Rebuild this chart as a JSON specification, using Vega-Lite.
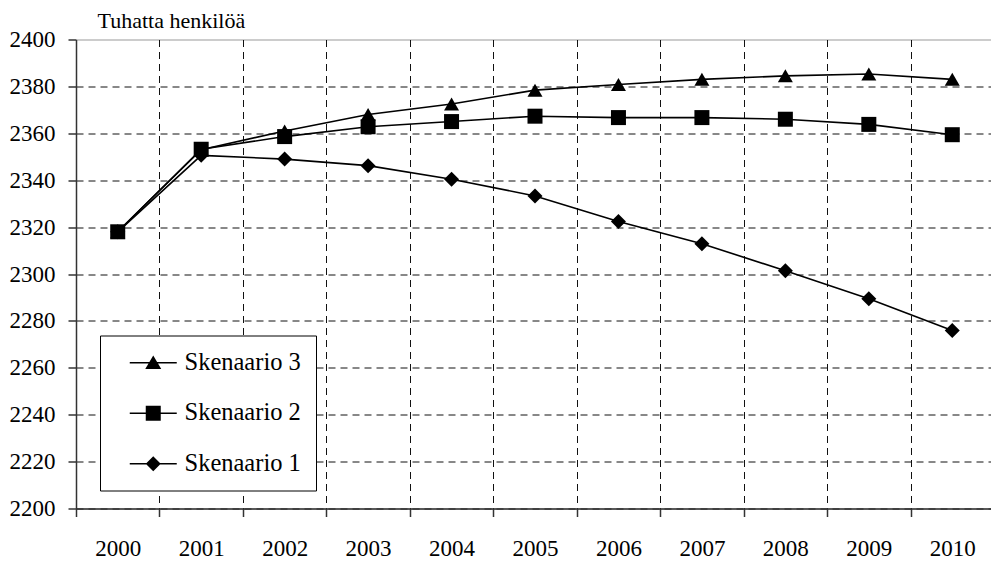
{
  "$schema": "https://vega.github.io/schema/vega-lite/v6.json",
  "width": 918,
  "height": 469,
  "autosize": {"type": "none"},
  "padding": {"left": 76, "top": 39.5, "right": 0, "bottom": 52.5},
  "background": "white",
  "config": {"view": {"stroke": "#999999", "strokeWidth": 1}, "font": "Liberation Serif"},
  "data": {"values": [
    {"year": "2000", "scenario": "Skenaario 3", "value": 2318},
    {"year": "2001", "scenario": "Skenaario 3", "value": 2353},
    {"year": "2002", "scenario": "Skenaario 3", "value": 2361},
    {"year": "2003", "scenario": "Skenaario 3", "value": 2368},
    {"year": "2004", "scenario": "Skenaario 3", "value": 2372.5},
    {"year": "2005", "scenario": "Skenaario 3", "value": 2378.4},
    {"year": "2006", "scenario": "Skenaario 3", "value": 2380.8},
    {"year": "2007", "scenario": "Skenaario 3", "value": 2383},
    {"year": "2008", "scenario": "Skenaario 3", "value": 2384.5},
    {"year": "2009", "scenario": "Skenaario 3", "value": 2385.3},
    {"year": "2010", "scenario": "Skenaario 3", "value": 2383},
    {"year": "2000", "scenario": "Skenaario 2", "value": 2318},
    {"year": "2001", "scenario": "Skenaario 2", "value": 2353.2},
    {"year": "2002", "scenario": "Skenaario 2", "value": 2358.6},
    {"year": "2003", "scenario": "Skenaario 2", "value": 2362.8},
    {"year": "2004", "scenario": "Skenaario 2", "value": 2365},
    {"year": "2005", "scenario": "Skenaario 2", "value": 2367.3},
    {"year": "2006", "scenario": "Skenaario 2", "value": 2366.7},
    {"year": "2007", "scenario": "Skenaario 2", "value": 2366.7},
    {"year": "2008", "scenario": "Skenaario 2", "value": 2366},
    {"year": "2009", "scenario": "Skenaario 2", "value": 2363.8},
    {"year": "2010", "scenario": "Skenaario 2", "value": 2359.4},
    {"year": "2000", "scenario": "Skenaario 1", "value": 2318},
    {"year": "2001", "scenario": "Skenaario 1", "value": 2350.6},
    {"year": "2002", "scenario": "Skenaario 1", "value": 2349},
    {"year": "2003", "scenario": "Skenaario 1", "value": 2346.2},
    {"year": "2004", "scenario": "Skenaario 1", "value": 2340.4},
    {"year": "2005", "scenario": "Skenaario 1", "value": 2333.3},
    {"year": "2006", "scenario": "Skenaario 1", "value": 2322.4},
    {"year": "2007", "scenario": "Skenaario 1", "value": 2312.9},
    {"year": "2008", "scenario": "Skenaario 1", "value": 2301.4},
    {"year": "2009", "scenario": "Skenaario 1", "value": 2289.4},
    {"year": "2010", "scenario": "Skenaario 1", "value": 2275.9}
  ]},
  "encoding": {
    "x": {
      "field": "year", "type": "ordinal",
      "scale": {"type": "band", "paddingInner": 0, "paddingOuter": 0},
      "axis": {
        "title": null, "labelAngle": 0, "tickBand": "extent",
        "labelFont": "Liberation Serif", "labelFontSize": 23, "labelColor": "black",
        "labelBaseline": "alphabetic", "tickSize": 8, "labelPadding": 39,
        "tickColor": "#333333", "tickWidth": 1.5, "domainColor": "#333333", "domainWidth": 1.5,
        "grid": true, "gridColor": "#111111", "gridDash": [7, 5], "gridWidth": 1
      }
    },
    "y": {
      "field": "value", "type": "quantitative",
      "scale": {"domain": [2200, 2400], "nice": false, "zero": false},
      "axis": {
        "values": [2200, 2220, 2240, 2260, 2280, 2300, 2320, 2340, 2360, 2380, 2400],
        "format": "d",
        "title": "Tuhatta henkilöä", "titleAngle": 0, "titleAlign": "left",
        "titleX": 21, "titleY": -12, "titleBaseline": "alphabetic",
        "titleFont": "Liberation Serif", "titleFontSize": 22, "titleFontWeight": "normal", "titleColor": "black",
        "labelFont": "Liberation Serif", "labelFontSize": 23, "labelColor": "black",
        "labelPadding": 13, "tickSize": 8, "tickColor": "#333333", "tickWidth": 1.5,
        "domainColor": "#333333", "domainWidth": 1.5,
        "grid": true, "gridColor": "#111111", "gridDash": [7, 5], "gridWidth": 1,
        "gridOpacity": {"condition": {"test": "datum.value == 2400", "value": 0}, "value": 1}
      }
    }
  },
  "layer": [
    {
      "mark": {"type": "line", "color": "black", "strokeWidth": 1.6},
      "encoding": {"detail": {"field": "scenario", "type": "nominal"}}
    },
    {
      "mark": {"type": "point", "filled": true, "color": "black", "opacity": 1, "size": 225},
      "encoding": {
        "shape": {
          "field": "scenario", "type": "nominal",
          "scale": {"domain": ["Skenaario 3", "Skenaario 2", "Skenaario 1"], "range": ["triangle-up", "square", "diamond"]},
          "legend": null
        }
      }
    },
    {
      "mark": {"type": "point", "filled": true, "color": "black", "opacity": 0, "size": 225},
      "encoding": {
        "shape": {
          "field": "scenario", "type": "nominal",
          "scale": {"domain": ["Skenaario 3", "Skenaario 2", "Skenaario 1"], "range": ["M-2.35,-0.08H2.35V0.08H-2.35ZM0,-0.72L0.8,0.62L-0.8,0.62Z", "M-2.35,-0.08H2.35V0.08H-2.35ZM-0.75,-0.75H0.75V0.75H-0.75Z", "M-2.35,-0.08H2.35V0.08H-2.35ZM0,-0.75L0.75,0L0,0.75L-0.75,0Z"]},
          "legend": {
            "title": null, "orient": "none", "legendX": 24, "legendY": 296,
            "strokeColor": "black", "fillColor": "white", "padding": 15,
            "labelFont": "Liberation Serif", "labelFontSize": 24.5, "labelColor": "black",
            "rowPadding": 25.5, "symbolSize": 400, "symbolOffset": 26, "labelOffset": 19,
            "symbolFillColor": "black", "symbolStrokeColor": "black", "symbolStrokeWidth": 0, "symbolOpacity": 1
          }
        }
      }
    }
  ],
  "resolve": {"scale": {"shape": "independent"}, "legend": {"shape": "independent"}}
}
